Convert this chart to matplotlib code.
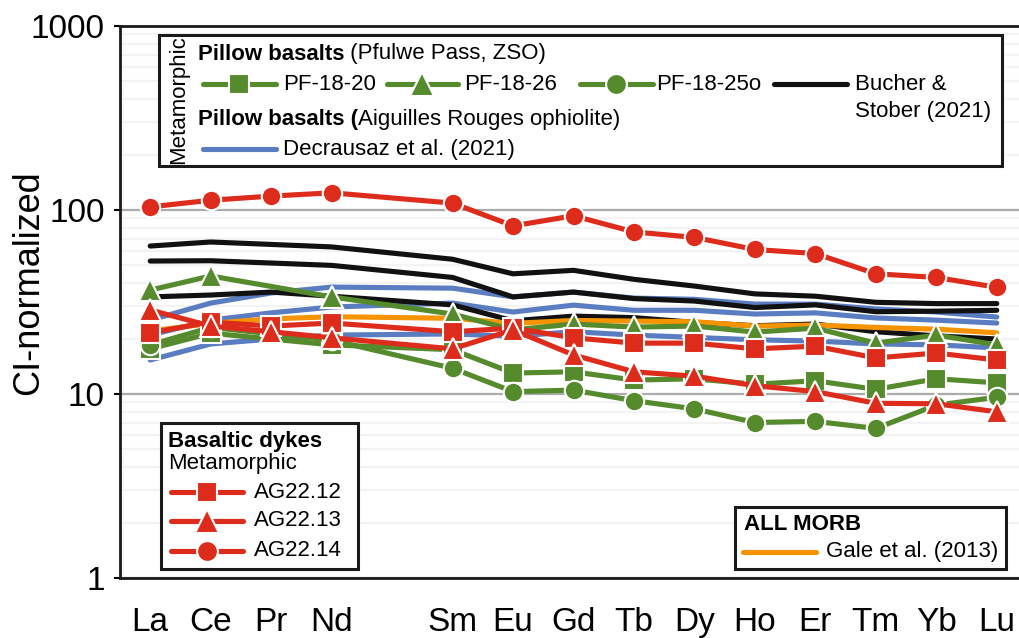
import numpy as np
import matplotlib
matplotlib.use('Agg')
import matplotlib.pyplot as plt
from matplotlib.lines import Line2D
from matplotlib.patches import Rectangle
from matplotlib.ticker import LogLocator, NullFormatter, FixedLocator

plt.rcParams['font.family'] = ['Liberation Sans', 'DejaVu Sans']

# REE order (Pm left blank on the axis)
tick_labels = ['La', 'Ce', 'Pr', 'Nd', '', 'Sm', 'Eu', 'Gd', 'Tb', 'Dy',
               'Ho', 'Er', 'Tm', 'Yb', 'Lu']
elements = ['La', 'Ce', 'Pr', 'Nd', 'Sm', 'Eu', 'Gd', 'Tb', 'Dy',
            'Ho', 'Er', 'Tm', 'Yb', 'Lu']
nan = np.nan

# pillow basalts, Pfulwe Pass (ZSO) -- no Pr analysed
pf_18_20 = [17.6, 21.4, nan, 18.5, 17.4, 13.0, 13.2, 11.9, 12.1, 11.3, 11.8, 10.6, 12.1, 11.5]
pf_18_26 = [36.7, 43.8, nan, 33.7, 27.2, 22.3, 24.0, 23.1, 23.4, 21.7, 22.8, 18.9, 20.9, 18.5]
pf_18_25o = [18.5, 23.0, nan, 19.6, 13.8, 10.3, 10.5, 9.2, 8.3, 7.0, 7.1, 6.5, 8.7, 9.6]

# Bucher & Stober (2021)
bucher = [
    [63.7, 67.0, 65.0, 63.0, 54.0, 45.0, 47.0, 42.0, 38.6, 35.0, 34.0, 31.5, 31.0, 31.0],
    [52.8, 53.0, 51.5, 50.0, 43.0, 33.7, 35.8, 33.0, 32.0, 29.5, 30.5, 28.0, 28.2, 28.5],
    [33.7, 34.5, 35.8, 34.0, 30.5, 25.0, 26.5, 26.0, 24.5, 23.5, 24.0, 21.8, 20.7, 19.9],
]

# Decrausaz et al. (2021), Aiguilles Rouges ophiolite
decrausaz = [
    [25.2, 31.2, 35.4, 38.1, 37.6, 33.7, 35.8, 33.2, 32.7, 30.8, 30.8, 29.0, 27.9, 26.2],
    [20.9, 25.2, 27.6, 29.7, 31.2, 27.9, 30.4, 28.5, 28.5, 27.2, 27.6, 25.9, 25.2, 24.3],
    [15.3, 18.7, 19.9, 20.9, 21.2, 20.6, 21.8, 20.9, 20.3, 19.7, 19.4, 18.7, 18.5, 17.8],
]

# ALL MORB, Gale et al. (2013)
gale = [22.0, 24.2, 25.6, 26.3, 25.8, 24.2, 25.1, 24.9, 24.7, 23.4, 23.7, 23.0, 22.5, 21.5]

# basaltic dykes
ag22_12 = [21.5, 24.6, 23.4, 24.3, 21.8, 22.8, 20.2, 18.9, 18.9, 17.6, 18.2, 15.7, 16.7, 15.3]
ag22_13 = [28.6, 23.4, 21.8, 20.2, 17.6, 22.3, 16.3, 13.2, 12.5, 11.1, 10.3, 8.9, 8.85, 8.0]
ag22_14 = [104, 113, 119, 124, 109, 82, 93, 76, 71, 61, 58, 45, 43, 38]

red, green, blue, orange, black = '#DE2C1C', '#558A2D', '#5A7DC2', '#F59300', '#111111'

x = np.array([tick_labels.index(e) for e in elements])

# initialize figure
W, H = 1019.0, 638.0
fig = plt.figure(figsize=(W/100, H/100), dpi=100)
ax = fig.add_axes([120/W, 1-578/H, 907/W, 552/H])

lw = 3.7
msize = {'s': 14, '^': 16, 'o': 14}
line_kw = dict(lw=lw, solid_capstyle='round', solid_joinstyle='round')


def series(vals, color, marker=None):
    v = np.asarray(vals, dtype=float)
    ok = ~np.isnan(v)
    kw = dict(line_kw)
    if marker:
        kw.update(marker=marker, ms=msize[marker], mec='white', mew=1.5)
    ax.plot(x[ok], v[ok], color=color, **kw)


for s in decrausaz:
    series(s, blue)
for s in bucher:
    series(s, black)
series(gale, orange)
series(pf_18_20, green, 's')
series(pf_18_26, green, '^')
series(pf_18_25o, green, 'o')
series(ag22_12, red, 's')
series(ag22_13, red, '^')
series(ag22_14, red, 'o')

# axes properties
ax.set_yscale('log')
ax.set_ylim(1, 1000)
ax.set_xlim(-0.5, len(tick_labels)-0.5)
ax.set_xticks(range(len(tick_labels)))
ax.set_xticklabels(tick_labels, fontsize=24)
ax.tick_params(axis='x', length=0, pad=21)
ax.yaxis.set_major_locator(FixedLocator([1, 10, 100, 1000]))
ax.set_yticklabels(['1', '10', '100', '1000'], fontsize=24)
ax.yaxis.set_minor_locator(LogLocator(subs=np.arange(2, 10)))
ax.yaxis.set_minor_formatter(NullFormatter())
ax.tick_params(axis='y', which='major', length=4, width=1.5, pad=7)
ax.tick_params(axis='y', which='minor', length=0)
ax.grid(axis='y', which='major', color='#ababab', lw=1.6)
ax.grid(axis='y', which='minor', color='#f3f3f3', lw=1.6)
ax.set_axisbelow(True)
for side in ['left', 'top', 'bottom']:
    ax.spines[side].set_linewidth(2)
    ax.spines[side].set_color('#1a1a1a')
ax.spines['right'].set_visible(False)

# legend overlay in pixel units
ov = fig.add_axes([0, 0, 1, 1], zorder=5)
ov.set_xlim(0, W)
ov.set_ylim(H, 0)
ov.axis('off')
ov.patch.set_alpha(0)

ov.text(29, 283, 'CI-normalized', fontsize=26, rotation=90, ha='center', va='center')

fs = 16


def box(x0, y0, x1, y1):
    ov.add_patch(Rectangle((x0, y0), x1-x0, y1-y0, fc='white', ec='#1a1a1a', lw=2.2))


def sample(x0, x1, y, color, marker=None):
    ov.add_line(Line2D([x0, x1], [y, y], color=color, **line_kw))
    if marker:
        ov.plot([(x0+x1)/2], [y], color=color, marker=marker, ms=msize[marker]+1,
                mec='white', mew=1.5)


def rich(x0, y, parts):
    fig.canvas.draw()
    r = fig.canvas.get_renderer()
    for txt, weight in parts:
        t = ov.text(x0, y, txt, fontsize=fs, fontweight=weight, va='center', ha='left')
        bb = t.get_window_extent(renderer=r)
        x0 += bb.width


box(159, 35, 1002, 166)
ov.text(179, 100, 'Metamorphic', fontsize=fs, rotation=90, va='center', ha='center')
rich(198, 54, [('Pillow basalts', 'bold'), (' (Pfulwe Pass, ZSO)', 'normal')])
sample(203, 276, 84, green, 's')
ov.text(283, 84, 'PF-18-20', fontsize=fs, va='center')
sample(387, 458, 84, green, '^')
ov.text(464, 84, 'PF-18-26', fontsize=fs, va='center')
sample(580, 653, 84, green, 'o')
ov.text(656, 84, 'PF-18-25o', fontsize=fs, va='center')
sample(774, 847, 84, black)
ov.text(855, 84, 'Bucher &', fontsize=fs, va='center')
ov.text(855, 111, 'Stober (2021)', fontsize=fs, va='center')
rich(198, 120, [('Pillow basalts (', 'bold'), ('Aiguilles Rouges ophiolite)', 'normal')])
sample(203, 276, 149, blue)
ov.text(283, 149, 'Decrausaz et al. (2021)', fontsize=fs, va='center')

box(161, 423, 358, 569)
ov.text(168, 442, 'Basaltic dykes', fontsize=fs, fontweight='bold', va='center')
ov.text(168, 464, 'Metamorphic', fontsize=fs, va='center')
for yy, mk, lab in [(492, 's', 'AG22.12'), (521, '^', 'AG22.13'), (551, 'o', 'AG22.14')]:
    sample(171, 243, yy, red, mk)
    ov.text(254, yy, lab, fontsize=fs, va='center')

box(735, 507, 1006, 569)
ov.text(744, 524, 'ALL MORB', fontsize=fs, fontweight='bold', va='center')
sample(743, 816, 552, orange)
ov.text(826, 552, 'Gale et al. (2013)', fontsize=fs, va='center')

fig.savefig('out.png', dpi=100)
